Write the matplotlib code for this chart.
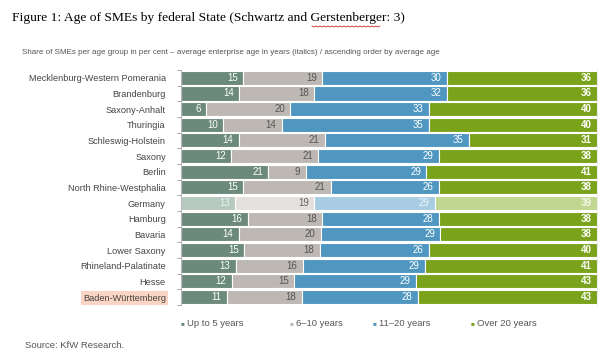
import numpy as np
from matplotlib import pyplot as plt

plt.rcParams['font.family'] = ['Liberation Sans', 'DejaVu Sans']

states = ['Mecklenburg-Western Pomerania', 'Brandenburg', 'Saxony-Anhalt', 'Thuringia',
          'Schleswig-Holstein', 'Saxony', 'Berlin', 'North Rhine-Westphalia', 'Germany',
          'Hamburg', 'Bavaria', 'Lower Saxony', 'Rhineland-Palatinate', 'Hesse',
          'Baden-Württemberg']
up_to_5 = [15, 14, 6, 10, 14, 12, 21, 15, 13, 16, 14, 15, 13, 12, 11]
y6_10 = [19, 18, 20, 14, 21, 21, 9, 21, 19, 18, 20, 18, 16, 15, 18]
y11_20 = [30, 32, 33, 35, 35, 29, 29, 26, 29, 28, 29, 26, 29, 29, 28]
over_20 = [36, 36, 40, 40, 31, 38, 41, 38, 39, 38, 38, 40, 41, 43, 43]
series_names = ['Up to 5 years', '6\u201310 years', '11\u201320 years', 'Over 20 years']

colors = ['#6b8a7c', '#bdb8b3', '#4f97c1', '#7aa21a']
light_colors = ['#b5c9c0', '#e3e0dd', '#a8cde3', '#c1d690']
text_colors = ['white', '#555555', 'white', 'white']
light_text = ['#eef2f0', '#666666', '#eef6fb', '#f4f8ea']

fig = plt.figure(figsize=(6.14, 3.57), dpi=100)
ax = fig.add_axes([0.295, 0.146, 0.677, 0.658])

data = np.array([up_to_5, y6_10, y11_20, over_20], dtype=float)
widths = data / data.sum(axis=0) * 100
y = np.arange(len(states))
left = np.zeros(len(states))
for k in range(4):
    cols = [light_colors[k] if s == 'Germany' else colors[k] for s in states]
    ax.barh(y, widths[k], left=left, height=0.9, color=cols,
            edgecolor='white', linewidth=0.8)
    for i in range(len(states)):
        tc = light_text[k] if states[i] == 'Germany' else text_colors[k]
        ax.text(left[i] + widths[k][i] - 1.3, y[i], '%d' % data[k][i],
                ha='right', va='center', fontsize=7, color=tc,
                fontweight='bold' if k == 3 else 'normal')
    left += widths[k]

ax.set_xlim(0, 100)
ax.set_ylim(len(states) - 0.5, -0.5)
ax.set_xticks([])
ax.set_yticks(y)
ax.set_yticklabels(states, fontsize=6.6, color='#444444')
ax.tick_params(axis='y', length=0, pad=11)
ax.set_yticks(np.arange(-0.5, len(states)), minor=True)
ax.tick_params(axis='y', which='minor', length=3, color='#999999', width=0.6)
for s in ['top', 'bottom']:
    ax.spines[s].set_visible(False)
ax.spines['left'].set_color('#aaaaaa')
ax.spines['left'].set_linewidth(0.6)
ax.spines['right'].set_color('#e6e6e6')
ax.spines['right'].set_linewidth(0.6)

for lab in ax.get_yticklabels():
    if lab.get_text() == 'Baden-Württemberg':
        lab.set_bbox(dict(facecolor='#fbd5c3', edgecolor='none', pad=1.5))

# legend
leg_x = [181, 290, 373, 471]
for k in range(4):
    fig.text(leg_x[k] / 614, 1 - 324 / 357, '\u25a0', color=colors[k],
             fontsize=4.5, va='center', ha='left')
    fig.text((leg_x[k] + 6) / 614, 1 - 324 / 357, series_names[k], color='#555555',
             fontsize=6.8, va='center', ha='left')

fig.text(12 / 614, 1 - 18 / 357,
         'Figure 1: Age of SMEs by federal State (Schwartz and Gerstenberger: 3)',
         family=['Liberation Serif'], fontsize=9.7, va='center', ha='left', color='black')
# spell-check squiggle under "Gerstenberger"
sx = np.linspace(312, 380, 35)
sy = 26 + 1.0 * (np.arange(35) % 2)
fig.add_artist(plt.Line2D(sx / 614, 1 - sy / 357, color='#d03030', linewidth=0.6))

fig.text(22 / 614, 1 - 52 / 357,
         'Share of SMEs per age group in per cent \u2013 average enterprise age in years (italics) / ascending order by average age',
         fontsize=5.8, color='#555555', va='center', ha='left')
fig.text(25 / 614, 1 - 345 / 357, 'Source: KfW Research.', fontsize=6.8,
         color='#555555', va='center', ha='left')

fig.savefig('out.png', dpi=100, facecolor='white')
